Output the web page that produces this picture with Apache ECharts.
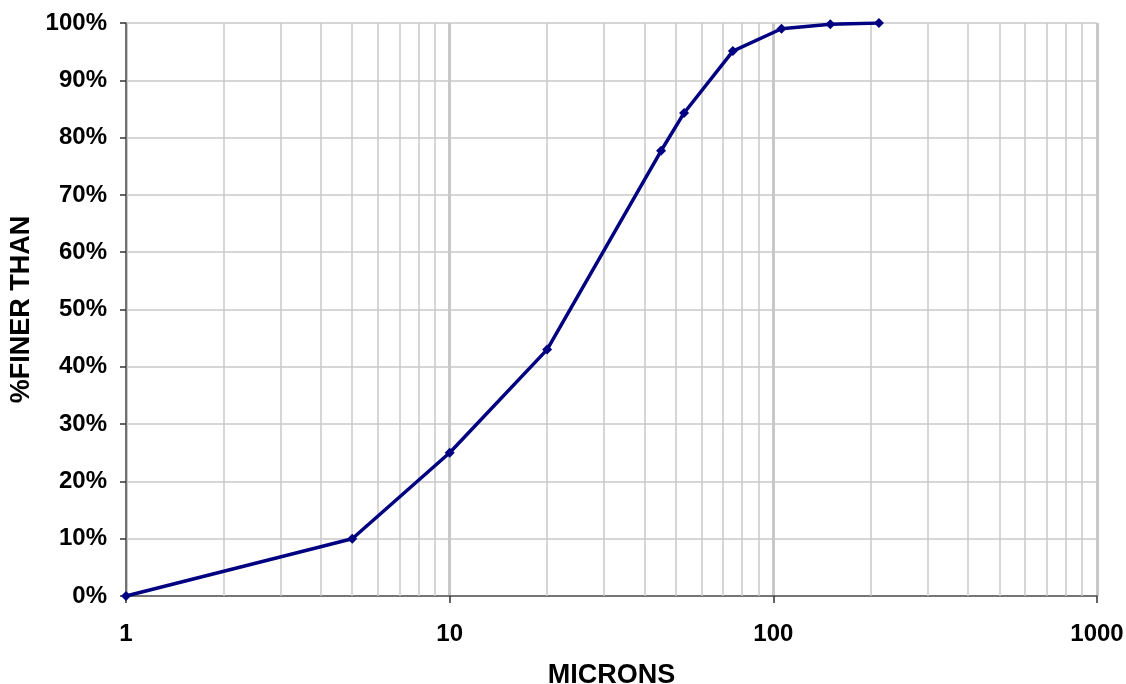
<!DOCTYPE html>
<html>
<head>
<meta charset="utf-8">
<script src="https://cdn.jsdelivr.net/npm/echarts@6/dist/echarts.min.js"></script>
<style>html,body{margin:0;padding:0;background:#fff}#c{width:1126px;height:684px}</style>
</head>
<body>
<div id="c"></div>
<script>
const microns = [1, 5, 10, 20, 45, 53, 75, 106, 150, 212];
const percentFiner = [0, 10, 25, 43, 77.7, 84.3, 95.1, 99, 99.8, 100];
const minorGridValues = [2,3,4,5,6,7,8,9,20,30,40,50,60,70,80,90,200,300,400,500,600,700,800,900];
const xTitle = 'MICRONS';
const yTitle = '%FINER THAN';

const chart = echarts.init(document.getElementById('c'));
const font = 'Liberation Sans, Arial, sans-serif';
chart.setOption({
  animation: false,
  grid: { left: 126, right: 29, top: 23, bottom: 88, containLabel: false, outerBoundsMode: 'none' },
  xAxis: {
    type: 'log', logBase: 10, min: 1, max: 1000,
    name: xTitle, nameLocation: 'middle', nameGap: 66,
    nameTextStyle: { fontFamily: font, fontWeight: 'bold', fontSize: 27, color: '#000' },
    axisLine: { show: true, lineStyle: { color: '#555', width: 1.5 } },
    axisTick: { show: true, length: 7, lineStyle: { color: '#333', width: 1.5 } },
    axisLabel: { fontFamily: font, fontWeight: 'bold', fontSize: 24, color: '#000', margin: 26, formatter: v => String(v) },
    splitLine: { show: true, lineStyle: { color: '#c8c8c8', width: 3 } }
  },
  yAxis: {
    type: 'value', min: 0, max: 100, interval: 10,
    name: yTitle, nameLocation: 'middle', nameGap: 87, nameRotate: 90,
    nameTextStyle: { fontFamily: font, fontWeight: 'bold', fontSize: 27, color: '#000' },
    axisLine: { show: true, lineStyle: { color: '#555', width: 1.5 } },
    axisTick: { show: true, length: 6, lineStyle: { color: '#333', width: 1.5 } },
    axisLabel: { fontFamily: font, fontWeight: 'bold', fontSize: 24, color: '#000', margin: 19, formatter: '{value}%' },
    splitLine: { show: true, lineStyle: { color: '#c8c8c8', width: 1.5 } }
  },
  series: [{
    type: 'line',
    data: microns.map((m, i) => [m, percentFiner[i]]),
    symbol: 'diamond', symbolSize: 10,
    lineStyle: { color: '#000080', width: 3.5 },
    itemStyle: { color: '#000080' },
    z: 5,
    markLine: {
      silent: true, symbol: 'none', animation: false,
      label: { show: false },
      lineStyle: { color: '#c8c8c8', width: 1.5, type: 'solid' },
      emphasis: { disabled: true },
      data: minorGridValues.map(v => ({ xAxis: v }))
    }
  }]
});
</script>
</body>
</html>
